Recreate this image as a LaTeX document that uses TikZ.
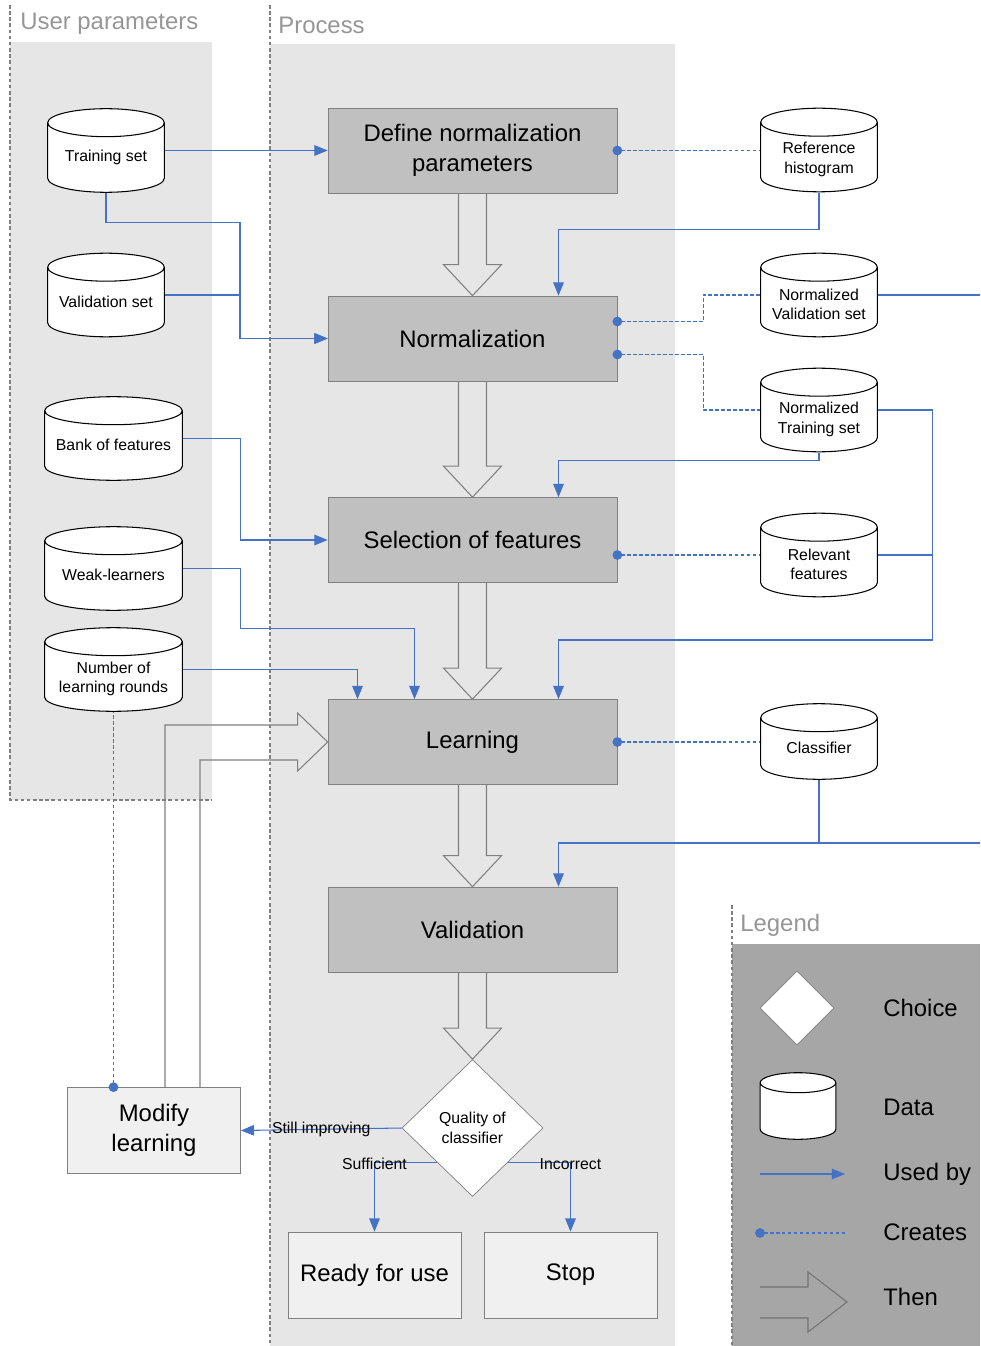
\documentclass[tikz,border=0pt]{standalone}
\usepackage{fontspec}
\setmainfont{Liberation Sans}
\usetikzlibrary{positioning, arrows.meta, calc, shapes.geometric}
\definecolor{useblue}{RGB}{68,114,196}
\definecolor{boxgray}{RGB}{192,192,192}
\definecolor{edgegray}{RGB}{128,128,128}
\definecolor{panelgray}{RGB}{230,230,230}
\definecolor{legendgray}{RGB}{166,166,166}
\definecolor{lightbox}{RGB}{240,240,240}
\definecolor{titlegray}{RGB}{150,150,150}
\tikzset{
  cap radius/.initial=2.8mm,
  store strut/.initial=14pt,
  procbox/.style={draw=edgegray, fill=boxgray, minimum width=57.8mm, minimum height=17mm,
                  align=center, font=\fontsize{13.6}{17}\selectfont},
  endbox/.style={draw=edgegray, fill=lightbox, minimum width=34.6mm, minimum height=17.2mm,
                 align=center, font=\fontsize{13.6}{17}\selectfont},
  % data store: a cylinder drawn inside the node's box
  datastore/.style={rectangle, minimum width=23.6mm, minimum height=17mm, inner sep=1pt,
                    execute at begin node={\rule{0pt}{\pgfkeysvalueof{/tikz/store strut}}},
                    align=center, font=\fontsize{9}{11.3}\selectfont,
    path picture={
      \draw[black, fill=white, line width=0.6pt]
        let \p1=(path picture bounding box.south west), \p2=(path picture bounding box.north east),
            \n1={(\x2-\x1)/2-0.4pt}, \n2={\pgfkeysvalueof{/tikz/cap radius}} in
        ({\x1+0.4pt},{\y2-0.4pt-\n2}) -- ({\x1+0.4pt},{\y1+0.4pt+\n2})
        arc[start angle=180, end angle=360, x radius={\n1*1pt}, y radius={\n2*1pt}]
        -- ({\x2-0.4pt},{\y2-0.4pt-\n2})
        arc[start angle=0, end angle=180, x radius={\n1*1pt}, y radius={\n2*1pt}] -- cycle
        ({\x1+0.4pt},{\y2-0.4pt-\n2})
        arc[start angle=180, end angle=360, x radius={\n1*1pt}, y radius={\n2*1pt}];
    }},
  twoline/.style={store strut=28.5pt},
  choice/.style={diamond, draw=edgegray, fill=white, minimum width=28.2mm, minimum height=27.4mm,
                 inner sep=0pt, align=center, font=\fontsize{9}{11.3}\selectfont},
  link/.style={useblue, line width=0.6pt},
  usedby/.style={link, -{Triangle[length=7.5pt, width=6pt]}},
  creates/.style={{Circle[length=5.5pt]}-, shorten <=-2.75pt, useblue, line width=0.9pt,
                  dash pattern=on 2pt off 1.4pt},
  thenarrow/.style={draw=edgegray, line width=0.6pt},
  lanetitle/.style={anchor=west, text=titlegray, inner sep=0pt, font=\fontsize{13.6}{17}\selectfont},
  lanesep/.style={edgegray, line width=0.6pt, dash pattern=on 2pt off 1.5pt},
  edgelabel/.style={text=black, inner sep=1pt, font=\fontsize{9}{11.3}\selectfont},
  legendtxt/.style={anchor=west, inner sep=0pt, font=\fontsize{13.6}{17}\selectfont}
}

\begin{document}
\begin{tikzpicture}[x=0.2mm, y=-0.2mm]
    \useasboundingbox (0,0) rectangle (980,1346);
    % lanes
    \fill[panelgray] (10,42) rectangle (212,800);
    \fill[panelgray] (270,44) rectangle (675,1346);
    \fill[legendgray] (732,944) rectangle (980,1346);
    \draw[lanesep] (10,5) -- (10,800) -- (212,800);
    \draw[lanesep] (270,5) -- (270,1346);
    \draw[lanesep] (732,905) -- (732,1346);
    \node[lanetitle] (usertitle) at (20,24) {User parameters};
    \node[lanetitle] (proctitle) at (278,25) {Process};
    \node[lanetitle] (legtitle) at (740,925) {Legend};

    % process
    \node[procbox] (define) at (472.5,150.5) {Define normalization\\parameters};
    \node[procbox] (norm)   at (472.5,338.5) {Normalization};
    \node[procbox] (select) at (472.5,540)   {Selection of features};
    \node[procbox] (learn)  at (472.5,742)   {Learning};
    \node[procbox] (valid)  at (472.5,929.5) {Validation};
    \node[choice]  (qual)   at (472.5,1128)  {Quality of\\classifier};
    \node[endbox]  (modify) at (154,1130.5)  {Modify\\learning};
    \node[endbox]  (ready)  at (374.5,1275)  {Ready for use};
    \node[endbox]  (stop)   at (570.5,1275)  {Stop};

    % user parameters
    \node[datastore] (trainset) at (106,150.5) {Training set};
    \node[datastore] (valset)   at (106,295)   {Validation set};
    \node[datastore, minimum width=27.8mm] (bankfeat) at (113.5,438.5) {Bank of features};
    \node[datastore, minimum width=27.8mm] (weak)     at (113.5,568.5) {Weak-learners};
    \node[datastore, twoline, minimum width=27.8mm] (rounds) at (113.5,669.5) {Number of\\learning rounds};

    % produced data
    \node[datastore, twoline] (refhist)   at (819,150) {Reference\\histogram};
    \node[datastore, twoline] (normval)   at (819,295) {Normalized\\Validation set};
    \node[datastore, twoline] (normtrain) at (819,410) {Normalized\\Training set};
    \node[datastore, twoline] (relfeat)   at (819,555) {Relevant\\features};
    \node[datastore, minimum height=15.4mm] (classif) at (819,741.5) {Classifier};
    \coordinate (rimA) at (980,295);
    \coordinate (rimB) at (980,843);

    % then
    \foreach \a/\b in {define/norm, norm/select, select/learn, learn/valid, valid/qual} {
      \draw[thenarrow] ($(\a.south)+(-14,0)$) -- ($(\b.north)+(-14,-31)$) -- ($(\b.north)+(-29,-31)$)
        -- (\b.north) -- ($(\b.north)+(29,-31)$) -- ($(\b.north)+(14,-31)$) -- ($(\a.south)+(14,0)$);
    }
    \draw[thenarrow] ($(modify.north)+(11,0)$) |- ($(learn.west)+(-30,-17)$) -- ++(0,-12) -- (learn.west)
      -- ($(learn.west)+(-30,29)$) -- ++(0,-11) -| ($(modify.north)+(46,0)$);

    % used by
    \draw[usedby] (trainset.east) -- (define.west);
    \draw[usedby] (trainset.south) -- ++(0,29) -- ++(134,0) |- (norm.west);
    \draw[usedby] (valset.east) -- ++(75,0) |- (norm.west);
    \draw[usedby] (refhist.south) -- ++(0,37) -| ($(norm.north)+(86,0)$);
    \draw[usedby] (normtrain.south) -- ++(0,8) -| ($(select.north)+(86,0)$);
    \draw[usedby] (bankfeat.east) -- ++(57,0) |- (select.west);
    \draw[usedby] (weak.east) -- ++(57,0) -- ++(0,60) -| ($(learn.north)+(-58,0)$);
    \draw[usedby] (rounds.east) -| ($(learn.north)+(-115,0)$);
    \draw[usedby] (normtrain.east) -- ++(54,0) -- ++(0,230) -| ($(learn.north)+(86,0)$);
    \draw[link] (relfeat.east) -- ++(54,0);
    \draw[link] (normval.east) -- (rimA);
    \draw[link] (classif.south) -- (classif.south |- rimB);
    \draw[usedby] (rimB) -| ($(valid.north)+(86,0)$);
    \draw[usedby] (qual.west) -- node[edgelabel] {Still improving} (modify.east);
    \draw[usedby] (qual.south west) -| node[edgelabel, pos=0.5, yshift=-1pt] {Sufficient} (ready.north);
    \draw[usedby] (qual.south east) -| node[edgelabel, pos=0.5, yshift=-1pt] {Incorrect} (stop.north);

    % creates
    \draw[creates] (define.east) -- (define.east -| refhist.west);
    \draw[creates] ($(norm.east)+(0,-17)$) -- ++(86,0) |- (normval.west);
    \draw[creates] ($(norm.east)+(0,16)$) -- ++(86,0) |- (normtrain.west);
    \draw[creates] ($(select.east)+(0,15)$) -- (relfeat.west);
    \draw[creates] (learn.east) -- (learn.east -| classif.west);
    \draw[creates] (rounds.south |- modify.north) -- (rounds.south);

    % legend
    \node[choice, minimum width=14.8mm, minimum height=14.8mm] (lchoice) at (797,1008) {};
    \node[datastore, cap radius=2mm, minimum width=15.4mm, minimum height=13.6mm] (ldata) at (798,1106) {};
    \coordinate (luA) at (760,1174);
    \coordinate (luB) at (845,1174);
    \coordinate (lcA) at (760,1233);
    \coordinate (lcB) at (845,1233);
    \draw[usedby] (luA) -- (luB);
    \draw[creates] (lcA) -- (lcB);
    \draw[thenarrow, draw=black!55] (760,1287) -- (808,1287) -- (808,1272) -- (847,1302)
      -- (808,1332) -- (808,1318) -- (760,1318);
    \node[legendtxt] (lchoicetxt) at (883,1008) {Choice};
    \node[legendtxt] (ldatatxt)   at (883,1107) {Data};
    \node[legendtxt] (lusedtxt)   at (883,1174) {Used by};
    \node[legendtxt] (lcreatetxt) at (883,1232) {Creates};
    \node[legendtxt] (lthentxt)   at (883,1297) {Then};
\end{tikzpicture}
\end{document}
